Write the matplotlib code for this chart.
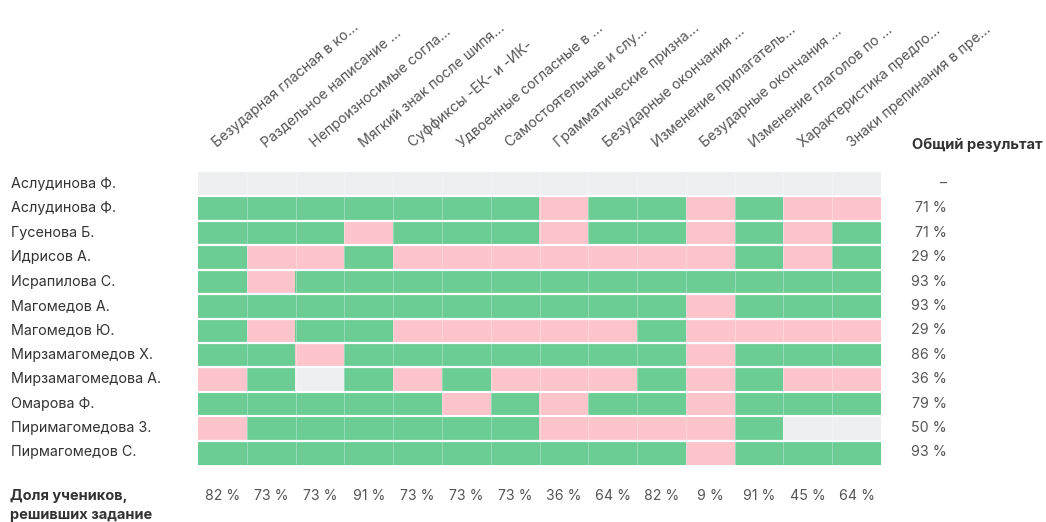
import numpy as np
import matplotlib
matplotlib.use("Agg")
from matplotlib import pyplot as plt
from matplotlib.colors import ListedColormap

plt.rcParams['font.family'] = ['Inter', 'DejaVu Sans']

students = ['Аслудинова Ф.', 'Аслудинова Ф.', 'Гусенова Б.', 'Идрисов А.', 'Исрапилова С.',
            'Магомедов А.', 'Магомедов Ю.', 'Мирзамагомедов Х.', 'Мирзамагомедова А.',
            'Омарова Ф.', 'Пиримагомедова З.', 'Пирмагомедов С.']
tasks = ['Безударная гласная в ко...', 'Раздельное написание ...', 'Непроизносимые согла...',
         'Мягкий знак после шипя...', 'Суффиксы -ЕК- и -ИК-', 'Удвоенные согласные в ...',
         'Самостоятельные и слу...', 'Грамматические призна...', 'Безударные окончания ...',
         'Изменение прилагатель...', 'Безударные окончания ...', 'Изменение глаголов по ...',
         'Характеристика предло...', 'Знаки препинания в пре...']
# 1 = решено, 0 = не решено, -1 = нет данных
results = [
    [-1, -1, -1, -1, -1, -1, -1, -1, -1, -1, -1, -1, -1, -1],
    [1, 1, 1, 1, 1, 1, 1, 0, 1, 1, 0, 1, 0, 0],
    [1, 1, 1, 0, 1, 1, 1, 0, 1, 1, 0, 1, 0, 1],
    [1, 0, 0, 1, 0, 0, 0, 0, 0, 0, 0, 1, 0, 1],
    [1, 0, 1, 1, 1, 1, 1, 1, 1, 1, 1, 1, 1, 1],
    [1, 1, 1, 1, 1, 1, 1, 1, 1, 1, 0, 1, 1, 1],
    [1, 0, 1, 1, 0, 0, 0, 0, 0, 1, 0, 0, 0, 0],
    [1, 1, 0, 1, 1, 1, 1, 1, 1, 1, 0, 1, 1, 1],
    [0, 1, -1, 1, 0, 1, 0, 0, 0, 1, 0, 1, 0, 0],
    [1, 1, 1, 1, 1, 0, 1, 0, 1, 1, 0, 1, 1, 1],
    [0, 1, 1, 1, 1, 1, 1, 0, 0, 0, 0, 1, -1, -1],
    [1, 1, 1, 1, 1, 1, 1, 1, 1, 1, 0, 1, 1, 1],
]
student_pct = ['–', '71 %', '71 %', '29 %', '93 %', '93 %', '29 %', '86 %', '36 %', '79 %', '50 %', '93 %']
task_pct = ['82 %', '73 %', '73 %', '91 %', '73 %', '73 %', '73 %', '36 %', '64 %', '82 %',
            '9 %', '91 %', '45 %', '64 %']

W, H = 1046, 522
fig = plt.figure(figsize=(W / 100, H / 100), dpi=100)
ax = fig.add_axes([198 / W, 1 - 465 / H, 683 / W, 293 / H])

data = np.array(results)
cmap = ListedColormap(['#eeeff1', '#fdc4cc', '#6bcd94'])
ax.imshow(data, cmap=cmap, vmin=-1.5, vmax=1.5, aspect='auto', interpolation='nearest')
nr, nc = data.shape
for i in range(1, nr):
    ax.axhline(i - 0.5, color='white', lw=1.6)
for j in range(1, nc):
    ax.axvline(j - 0.5, color='white', lw=0.6, alpha=0.35)
ax.set_xlim(-0.5, nc - 0.5)
ax.set_ylim(nr - 0.5, -0.5)
ax.axis('off')

for j, t in enumerate(tasks):
    ax.text(j - 0.1, -0.5 - 1.0, t, rotation=40, rotation_mode='anchor',
            ha='left', va='baseline', fontsize=10.2, color='#555555')

for i, s in enumerate(students):
    y = 1 - (184 + i * 24.4) / H
    fig.text(11 / W, y, s, ha='left', va='center', fontsize=10.3, color='#333333')
    fig.text(947 / W, y, student_pct[i], ha='right', va='center', fontsize=10.3, color='#555555')

for j, p in enumerate(task_pct):
    ax.text(j, nr - 0.5 + 1.25, p, ha='center', va='center', fontsize=10.2, color='#555555')

fig.text(912 / W, 1 - 145 / H, 'Общий результат', ha='left', va='center',
         fontsize=10.6, fontweight='bold', color='#333333')
fig.text(10 / W, 1 - 496 / H, 'Доля учеников,', ha='left', va='center',
         fontsize=10.5, fontweight='bold', color='#333333')
fig.text(10 / W, 1 - 515 / H, 'решивших задание', ha='left', va='center',
         fontsize=10.5, fontweight='bold', color='#333333')

fig.savefig('out.png', dpi=100, facecolor='white')
